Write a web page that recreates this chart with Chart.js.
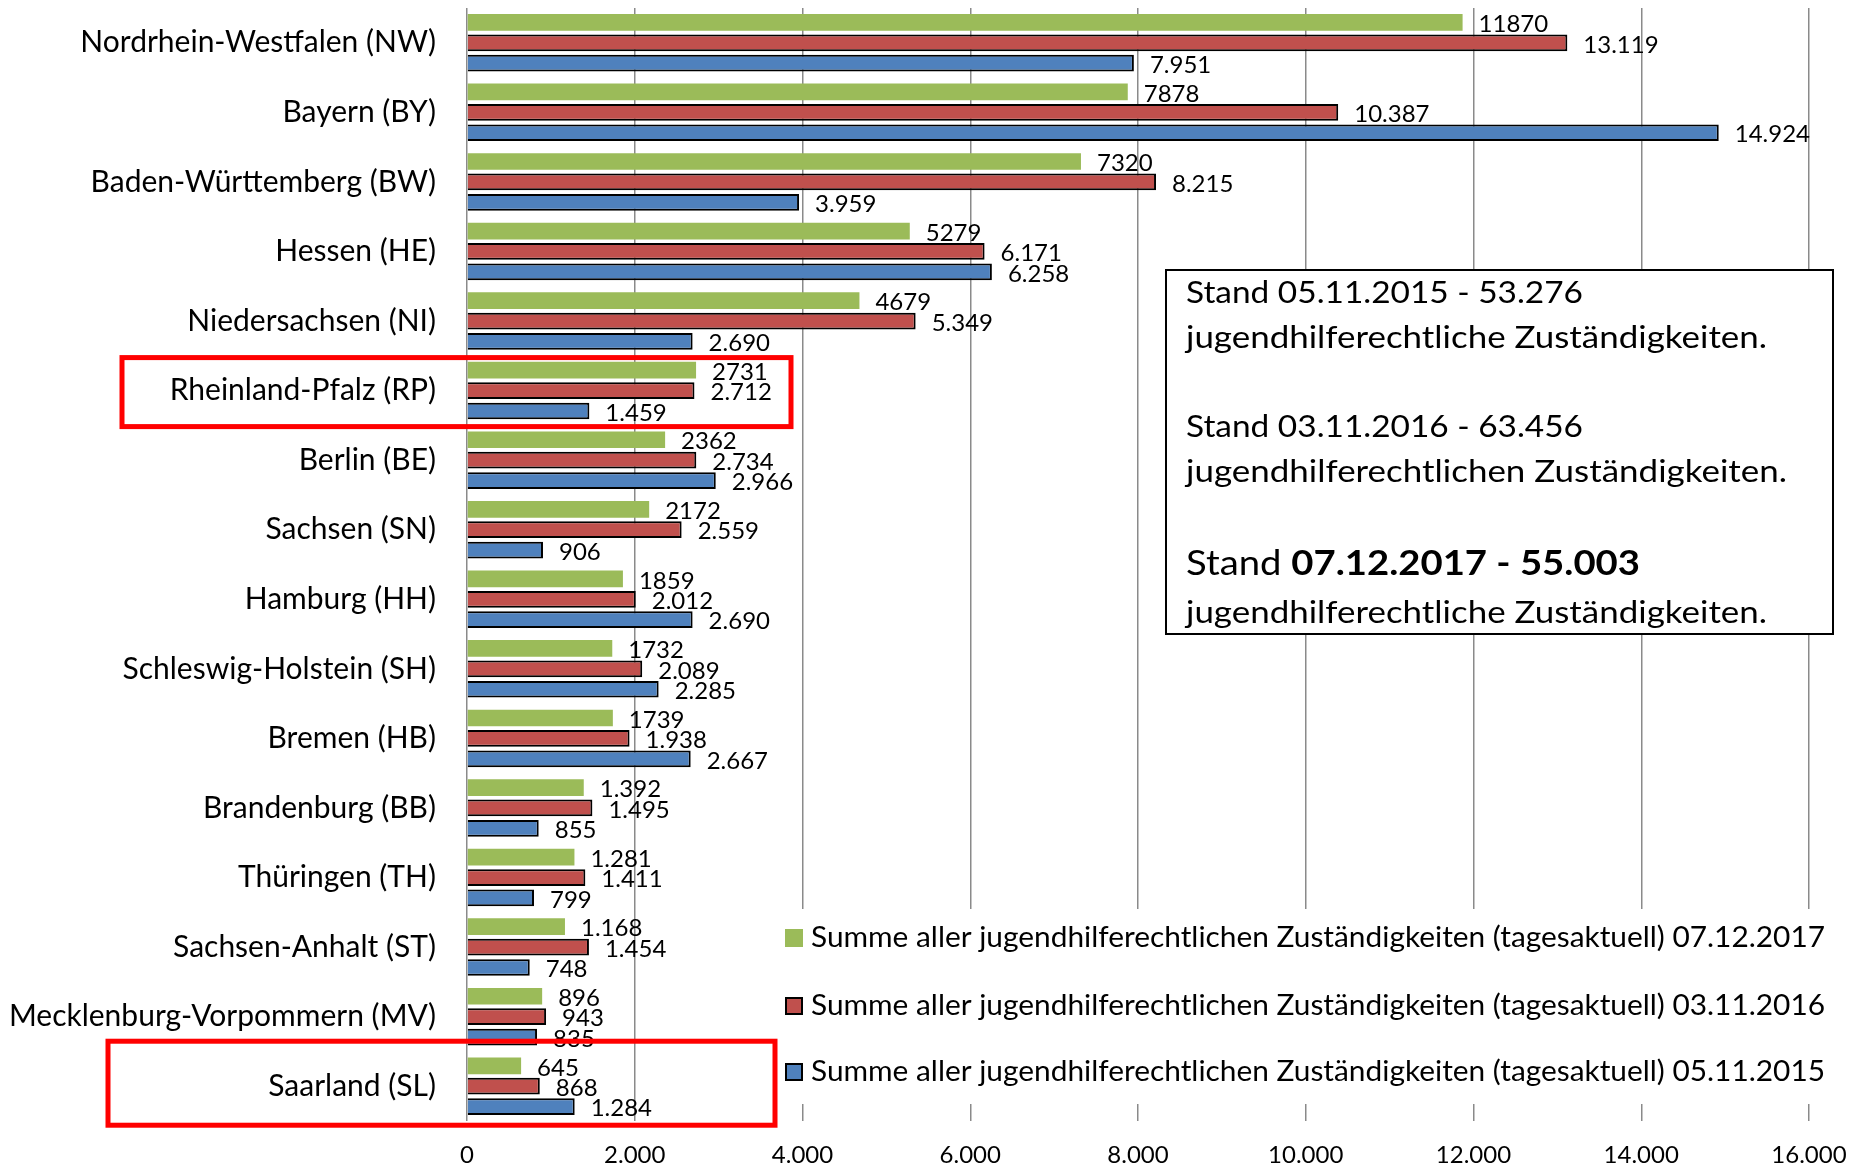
<!DOCTYPE html>
<html>
<head>
<meta charset="utf-8">
<script src="https://cdn.jsdelivr.net/npm/chart.js@4.4.1/dist/chart.umd.min.js"></script>
<style>
  html, body { margin: 0; padding: 0; background: #fff; }
  #chart { display: block; }
</style>
</head>
<body>
<canvas id="chart" width="1851" height="1167"></canvas>
<script>
// Jugendhilferechtliche Zuständigkeiten je Bundesland

const states = [
    'Nordrhein-Westfalen (NW)', 'Bayern (BY)', 'Baden-Württemberg (BW)', 'Hessen (HE)',
    'Niedersachsen (NI)', 'Rheinland-Pfalz (RP)', 'Berlin (BE)', 'Sachsen (SN)',
    'Hamburg (HH)', 'Schleswig-Holstein (SH)', 'Bremen (HB)', 'Brandenburg (BB)',
    'Thüringen (TH)', 'Sachsen-Anhalt (ST)', 'Mecklenburg-Vorpommern (MV)', 'Saarland (SL)'
];

const values2017 = [11870, 7878, 7320, 5279, 4679, 2731, 2362, 2172, 1859, 1732, 1739, 1392, 1281, 1168, 896, 645];
const values2016 = [13119, 10387, 8215, 6171, 5349, 2712, 2734, 2559, 2012, 2089, 1938, 1495, 1411, 1454, 943, 868];
const values2015 = [7951, 14924, 3959, 6258, 2690, 1459, 2966, 906, 2690, 2285, 2667, 855, 799, 748, 835, 1284];

// the 2017 labels are written partly without thousands separator in the original
const labels2017 = ['11870', '7878', '7320', '5279', '4679', '2731', '2362', '2172', '1859', '1732', '1739', '1.392', '1.281', '1.168', '896', '645'];

const seriesNames = [
    'Summe aller jugendhilferechtlichen Zuständigkeiten (tagesaktuell) 07.12.2017',
    'Summe aller jugendhilferechtlichen Zuständigkeiten (tagesaktuell) 03.11.2016',
    'Summe aller jugendhilferechtlichen Zuständigkeiten (tagesaktuell) 05.11.2015'
];

const xMax = 16000;
const xStep = 2000;

const highlighted = ['Rheinland-Pfalz (RP)', 'Saarland (SL)'];

const FONT = 'Lato, "Open Sans", sans-serif';

const deNum = v => String(v).replace(/\B(?=(\d{3})+(?!\d))/g, '.');

// draws text parts squeezed/stretched to a given width (Calibri is narrower than what we have)
function fitText(ctx, parts, x, y, width) {
    let total = 0;
    parts.forEach(p => { ctx.font = p[1]; total += ctx.measureText(p[0]).width; });
    ctx.save();
    ctx.translate(x, y);
    ctx.scale(width / total, 1);
    let cx = 0;
    parts.forEach(p => {
        ctx.font = p[1];
        ctx.fillText(p[0], cx, 0);
        cx += ctx.measureText(p[0]).width;
    });
    ctx.restore();
}

const overlayPlugin = {
    id: 'overlay',
    afterDatasetsDraw(chart) {
        const ctx = chart.ctx;
        ctx.save();
        ctx.fillStyle = '#000';
        ctx.textAlign = 'left';
        ctx.textBaseline = 'middle';
        ctx.font = '24px ' + FONT;
        chart.data.datasets.forEach((ds, i) => {
            chart.getDatasetMeta(i).data.forEach((bar, j) => {
                ctx.fillText(ds.valueLabels[j], bar.x + 16, bar.y + 2);
            });
        });
        ctx.restore();
    },
    afterDraw(chart) {
        const ctx = chart.ctx;
        const yScale = chart.scales.y;
        ctx.save();

        // legend block (white, covers the grid lines)
        ctx.fillStyle = '#fff';
        ctx.fillRect(779, 909, 1051, 195);
        const rowsY = [938, 1006, 1072];
        chart.data.datasets.forEach((ds, i) => {
            ctx.fillStyle = ds.backgroundColor;
            ctx.fillRect(785, rowsY[i] - 9, 18, 18);
            if (ds.borderWidth) {
                ctx.strokeStyle = '#000';
                ctx.lineWidth = 2;
                ctx.strokeRect(786, rowsY[i] - 8, 16, 16);
            }
            ctx.fillStyle = '#000';
            ctx.textBaseline = 'middle';
            fitText(ctx, [[ds.label, '29px ' + FONT]], 811, rowsY[i], 1014);
        });

        // info box
        ctx.fillStyle = '#fff';
        ctx.fillRect(1166, 270, 667, 364);
        ctx.strokeStyle = '#000';
        ctx.lineWidth = 2;
        ctx.strokeRect(1166, 270, 667, 364);
        ctx.fillStyle = '#000';
        ctx.textBaseline = 'middle';
        const n = '31px ' + FONT;
        fitText(ctx, [['Stand 05.11.2015 - 53.276', n]], 1186, 293, 397);
        fitText(ctx, [['jugendhilferechtliche Zuständigkeiten.', n]], 1186, 338, 581);
        fitText(ctx, [['Stand 03.11.2016 - 63.456', n]], 1186, 427, 397);
        fitText(ctx, [['jugendhilferechtlichen Zuständigkeiten.', n]], 1186, 472, 601);
        fitText(ctx, [['Stand ', '35px ' + FONT], ['07.12.2017 - 55.003', 'bold 35px ' + FONT]], 1186, 564, 454);
        fitText(ctx, [['jugendhilferechtliche Zuständigkeiten.', n]], 1186, 613, 581);

        // red frames
        ctx.strokeStyle = '#ff0000';
        ctx.lineWidth = 5;
        const rp = yScale.getPixelForValue(states.indexOf(highlighted[0]));
        ctx.strokeRect(122, rp - 33, 669, 69);
        const sl = yScale.getPixelForValue(states.indexOf(highlighted[1]));
        ctx.strokeRect(108, sl - 45, 667, 84);

        ctx.restore();
    }
};

const barDefaults = { categoryPercentage: 0.88, barPercentage: 0.82 };

new Chart(document.getElementById('chart'), {
    type: 'bar',
    data: {
        labels: states,
        datasets: [
            Object.assign({
                label: seriesNames[0],
                data: values2017,
                valueLabels: labels2017,
                backgroundColor: '#9bbb59',
                borderWidth: 0
            }, barDefaults),
            Object.assign({
                label: seriesNames[1],
                data: values2016,
                valueLabels: values2016.map(deNum),
                backgroundColor: '#c0504d',
                borderColor: '#000',
                borderWidth: 2
            }, barDefaults),
            Object.assign({
                label: seriesNames[2],
                data: values2015,
                valueLabels: values2015.map(deNum),
                backgroundColor: '#4f81bd',
                borderColor: '#000',
                borderWidth: 2
            }, barDefaults)
        ]
    },
    options: {
        indexAxis: 'y',
        responsive: false,
        animation: false,
        layout: { padding: { top: 8, right: 42, left: 0, bottom: 0 } },
        plugins: {
            legend: { display: false },
            tooltip: { enabled: false }
        },
        scales: {
            x: {
                min: 0,
                max: xMax,
                ticks: {
                    stepSize: xStep,
                    callback: v => deNum(v),
                    color: '#000',
                    font: { family: FONT, size: 24 },
                    padding: 20,
                    maxRotation: 0
                },
                grid: { color: '#8a8a8a', lineWidth: 1.5, drawTicks: false },
                border: { display: false },
                afterFit: s => {
                    s.height = 46;
                    s.paddingLeft = 0;
                    s.paddingRight = 0;
                }
            },
            y: {
                ticks: {
                    color: '#000',
                    font: { family: FONT, size: 30 },
                    padding: 31,
                    autoSkip: false
                },
                grid: { display: false, drawTicks: false },
                border: { display: false },
                afterFit: s => {
                    s.width = 467;
                    s.paddingTop = 0;
                    s.paddingBottom = 0;
                }
            }
        }
    },
    plugins: [overlayPlugin]
});
</script>
</body>
</html>
